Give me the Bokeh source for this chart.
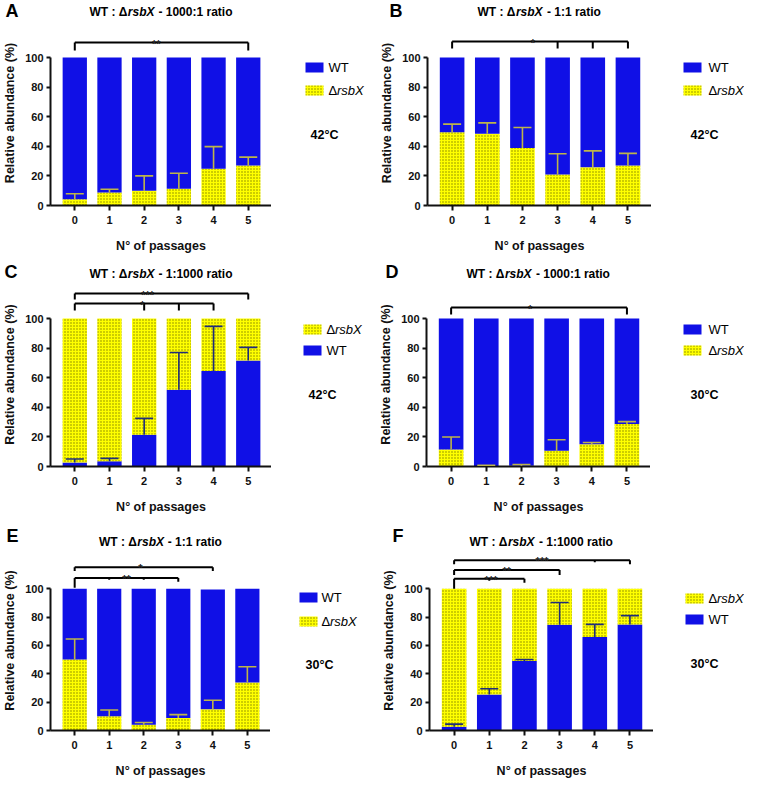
from bokeh.plotting import figure
from bokeh.models import Range1d, FixedTicker, Label, Whisker, TeeHead, ColumnDataSource
from bokeh.layouts import row, column
from bokeh.embed import file_html
from bokeh.resources import INLINE

# ---------------- data ----------------
passages = [0, 1, 2, 3, 4, 5]
y_ticks = [0, 20, 40, 60, 80, 100]

# A: WT : rsbX 1000:1, 42 C  (rsbX at bottom)
a_rsbx = [4.3, 8.8, 9.9, 11.4, 24.8, 27.0]
a_rsbx_sd = [3.6, 2.2, 10.1, 10.4, 15.0, 5.7]
a_wt = [95.7, 91.2, 90.1, 88.6, 75.2, 73.0]

# B: 1:1, 42 C
b_rsbx = [49.5, 48.4, 38.9, 20.9, 25.9, 27.0]
b_rsbx_sd = [5.5, 7.4, 13.8, 14.1, 11.0, 8.2]
b_wt = [50.5, 51.6, 61.1, 79.1, 74.1, 73.0]

# C: 1:1000, 42 C  (WT at bottom)
c_wt = [2.7, 3.5, 21.5, 51.8, 64.6, 71.7]
c_wt_sd = [2.4, 2.0, 11.0, 25.2, 30.1, 8.8]
c_rsbx = [97.3, 96.5, 78.5, 48.2, 35.4, 28.3]

# D: 1000:1, 30 C
d_rsbx = [11.5, 0.3, 0.5, 10.6, 15.0, 28.8]
d_rsbx_sd = [8.4, 0.5, 0.9, 7.5, 1.2, 1.5]
d_wt = [88.5, 99.7, 99.5, 89.4, 85.0, 71.2]

# E: 1:1, 30 C
e_rsbx = [50.1, 10.1, 4.0, 8.8, 15.0, 33.9]
e_rsbx_sd = [14.4, 4.3, 1.6, 2.4, 6.3, 11.0]
e_wt = [49.9, 89.9, 96.0, 91.2, 84.4, 66.1]

# F: 1:1000, 30 C
f_wt = [2.7, 25.4, 49.0, 74.6, 65.9, 74.8]
f_wt_sd = [1.8, 4.0, 1.1, 15.6, 8.9, 6.2]
f_rsbx = [97.3, 74.6, 51.0, 25.4, 34.1, 25.2]

# significance comparisons: (from, to, intermediate ticks, label)
a_sig = [(0, 5, [], "**")]
b_sig = [(0, 5, [3, 4], "*")]
c_sig = [(0, 5, [], "***"), (0, 4, [2, 3], "*")]
d_sig = [(0, 5, [], "*")]
e_sig = [(0, 4, [], "*"), (0, 3, [1, 2], "**")]
f_sig = [(0, 5, [4], "***"), (0, 3, [], "**"), (0, 2, [1], "***")]

# ---------------- style / layout ----------------
TILE_W, TILE_H = 372, 260
PPX = 35.2
X0, X1 = -0.7, 5.67
BLUE = "#1010E6"
YELLOW = "#FFFF00"
FONT = "Liberation Sans"

BOLD_W = {'W': 944, 'T': 611, ' ': 278, ':': 333, '-': 333, '0': 556, '1': 556,
          'r': 389, 'a': 556, 't': 333, 'i': 278, 'o': 611,
          'A': 722, 'B': 722, 'C': 722, 'D': 722, 'E': 667, 'F': 611}
BI_W = {'r': 389, 's': 556, 'b': 611, 'X': 667}


def tw(s, size, table):
    return sum(table.get(c, 556) for c in s) * size / 1000.0


panels = [
    dict(letter="A", ratio="1000:1", temp="42°C", bottom="rsbx",
         low=a_rsbx, low_sd=a_rsbx_sd, high=a_wt, sig=a_sig, head=20,
         geom=(47, 57, 205), letter_x=1, title_py=11,
         box_left=305, text_x=328, leg_py=(67, 90), temp_px=(310, 134),
         br=[(2.35, 42, 8, 8, 8)]),
    dict(letter="B", ratio="1:1", temp="42°C", bottom="rsbx",
         low=b_rsbx, low_sd=b_rsbx_sd, high=b_wt, sig=b_sig, head=20,
         geom=(55, 57, 205), letter_x=16, title_py=11,
         box_left=311, text_x=336, leg_py=(67, 90), temp_px=(318, 134),
         br=[(2.3, 41, 7, 7, 7)]),
    dict(letter="C", ratio="1:1000", temp="42°C", bottom="wt",
         low=c_wt, low_sd=c_wt_sd, high=c_rsbx, sig=c_sig, head=22,
         geom=(47, 58, 206), letter_x=0, title_py=13.7,
         box_left=303, text_x=326, leg_py=(69, 90), temp_px=(308, 134),
         br=[(2.1, 33, 6, 6, 6), (1.95, 43, 7, 7, 7)]),
    dict(letter="D", ratio="1000:1", temp="30°C", bottom="rsbx",
         low=d_rsbx, low_sd=d_rsbx_sd, high=d_wt, sig=d_sig, head=22,
         geom=(54, 58, 206), letter_x=12, title_py=13.7,
         box_left=311, text_x=336, leg_py=(69, 90), temp_px=(318, 134),
         br=[(2.25, 47, 7, 7, 7)]),
    dict(letter="E", ratio="1:1", temp="30°C", bottom="rsbx",
         low=e_rsbx, low_sd=e_rsbx_sd, high=e_wt, sig=e_sig, head=30,
         geom=(46, 69, 214), letter_x=0, title_py=21.5,
         box_left=299, text_x=321, leg_py=(77, 101), temp_px=(305, 144),
         br=[(1.9, 47, 4, 4, 2), (1.5, 58, 10, 4, 2)]),
    dict(letter="F", ratio="1:1000", temp="30°C", bottom="wt",
         low=f_wt, low_sd=f_wt_sd, high=f_rsbx, sig=f_sig, head=30,
         geom=(57, 69, 214), letter_x=19, title_py=21.5,
         box_left=313, text_x=336, leg_py=(78, 99), temp_px=(318, 143),
         br=[(2.5, 40, 4, 4, 2), (1.5, 50, 5, 5, 2), (1.05, 59, 10, 4, 2)]),
]


def lbl(p, x, y, text, size, style="normal", align="left", baseline="middle", color="black"):
    p.add_layout(Label(x=x, y=y, text=text, text_font=FONT, text_font_size=f"{size}px",
                       text_font_style=style, text_align=align, text_baseline=baseline,
                       text_color=color))


def style_fig(f):
    f.outline_line_color = None
    f.xgrid.visible = False
    f.ygrid.visible = False
    return f


YEL = dict(fill_color=YELLOW, hatch_pattern="dot", hatch_color="#5a5a00",
           hatch_scale=3, hatch_weight=1, hatch_alpha=0.75, line_color=None)
BLU = dict(fill_color=BLUE, line_color=None)


def make_tile(s):
    left, y100, y0 = s["geom"]
    hh = s["head"]
    main_w = int(round(left + (X1 - X0) * PPX))
    side_w = TILE_W - main_w

    # ---- title strip: panel letter (horizontal axis label) + title
    h = figure(width=main_w, height=hh, output_backend="svg", toolbar_location=None,
               title=None, x_axis_type=None,
               x_range=Range1d(left, main_w), y_range=Range1d(hh, 0),
               min_border_left=left, min_border_right=0, min_border_top=0,
               min_border_bottom=0)
    style_fig(h)
    hy = h.yaxis[0]
    hy.ticker = FixedTicker(ticks=[])
    hy.axis_line_color = None
    hy.major_tick_line_color = None
    hy.minor_tick_line_color = None
    hy.major_label_text_font_size = "0px"
    hy.axis_label = s["letter"]
    hy.axis_label_orientation = "horizontal"
    hy.axis_label_text_font = FONT
    hy.axis_label_text_font_style = "bold"
    hy.axis_label_text_font_size = "18px"
    hy.axis_label_text_color = "black"
    hy.axis_label_standoff = int(max(0, left - s["letter_x"] - tw(s["letter"], 18, BOLD_W) - 1))

    tsize = 12
    p1, p2, p3 = "WT : Δ", "rsbX", "- " + s["ratio"] + " ratio"
    w2, wsp, w3 = tw(p2, tsize, BI_W), tw(" ", tsize, BOLD_W), tw(p3, tsize, BOLD_W)
    w1 = tw("WT : ", tsize, BOLD_W) + 0.667 * tsize
    total = w1 + w2 + wsp + w3 + 1.5
    cx = (left + main_w) / 2.0
    xa = cx - total / 2 + w1
    ty = s["title_py"]
    lbl(h, xa, ty, p1, tsize, "bold", align="right", baseline="alphabetic")
    lbl(h, xa + 0.5, ty, p2, tsize, "bold italic", baseline="alphabetic")
    lbl(h, xa + w2 + wsp + 1.5, ty, p3, tsize, "bold", baseline="alphabetic")

    # ---- main plot
    yend = 100.0 * (y0 - hh) / (y0 - y100)

    def yd(py):
        return 100.0 * (y0 - py) / (y0 - y100)

    def dy(dpx):
        return 100.0 * dpx / (y0 - y100)

    p = figure(width=main_w, height=TILE_H - hh, output_backend="svg", toolbar_location=None,
               title=None, x_range=Range1d(X0, X1), y_range=Range1d(0, yend),
               min_border_left=left, min_border_right=0, min_border_top=0,
               min_border_bottom=TILE_H - y0)
    style_fig(p)

    low, high, sd = s["low"], s["high"], s["low_sd"]
    low_top = list(low)
    high_top = [a + b for a, b in zip(low, high)]
    if s["bottom"] == "rsbx":
        low_style, high_style, ecol = YEL, BLU, "#BDB44A"
    else:
        low_style, high_style, ecol = BLU, YEL, "#1F2D7A"
    p.vbar(x=passages, width=0.7, bottom=0, top=low_top, **low_style)
    p.vbar(x=passages, width=0.7, bottom=low_top, top=high_top, **high_style)

    src = ColumnDataSource(dict(x=passages, lower=low, upper=[a + b for a, b in zip(low, sd)]))
    p.add_layout(Whisker(base="x", lower="lower", upper="upper", source=src, level="overlay",
                         line_color=ecol, line_width=1.6, lower_head=None,
                         upper_head=TeeHead(size=18, line_color=ecol, line_width=1.6)))

    xa_, ya_ = p.xaxis[0], p.yaxis[0]
    xa_.ticker = FixedTicker(ticks=passages)
    ya_.ticker = FixedTicker(ticks=y_ticks)
    ya_.bounds = (0, 100)
    for ax in (xa_, ya_):
        ax.axis_line_width = 2
        ax.axis_line_color = "#111111"
        ax.major_tick_line_width = 2
        ax.major_tick_line_color = "#111111"
        ax.major_tick_out = 5
        ax.major_tick_in = 0
        ax.minor_tick_line_color = None
        ax.major_label_text_font = FONT
        ax.major_label_text_font_style = "bold"
        ax.major_label_text_font_size = "11px"
        ax.major_label_text_color = "#111111"
        ax.axis_label_text_font = FONT
        ax.axis_label_text_font_style = "bold"
        ax.axis_label_text_font_size = "12.5px"
        ax.axis_label_text_color = "#111111"
    ya_.major_tick_out = 4
    ya_.axis_label = "Relative abundance (%)"
    ya_.axis_label_standoff = 5
    ya_.major_label_standoff = 3
    xa_.axis_label = "N° of passages"
    xa_.axis_label_standoff = 12
    xa_.major_label_standoff = 5

    # significance brackets
    sx0, sy0, sx1, sy1 = [], [], [], []
    for (a, b, mids, text), (star_x, line_py, dl, dr, dm) in zip(s["sig"], s["br"]):
        ly = yd(line_py)
        sx0 += [a, a, b]
        sy0 += [ly, ly, ly]
        sx1 += [b, a, b]
        sy1 += [ly, ly - dy(dl), ly - dy(dr)]
        for m in mids:
            sx0.append(m)
            sy0.append(ly)
            sx1.append(m)
            sy1.append(ly - dy(dm))
        lbl(p, star_x, yd(line_py + 1), text, 11, "bold", "center", "alphabetic", "#222222")
    p.segment(x0=sx0, y0=sy0, x1=sx1, y1=sy1, line_color="black", line_width=2)

    # ---- side: legend + temperature (tile pixel coordinates, borders match the plot)
    sb = TILE_H - y0
    sf = figure(width=side_w, height=TILE_H, output_backend="svg", toolbar_location=None,
                title=None, x_axis_type=None, y_axis_type=None,
                x_range=Range1d(main_w, TILE_W), y_range=Range1d(y0, 0),
                min_border_left=0, min_border_right=0, min_border_top=0, min_border_bottom=sb)
    style_fig(sf)
    names = ["WT", "rsbx"] if s["bottom"] == "rsbx" else ["rsbx", "WT"]
    bx = s["box_left"]
    for name, py in zip(names, s["leg_py"]):
        sty = YEL if name == "rsbx" else BLU
        sf.rect(x=[bx + 9], y=[py], width=18, height=10, **sty)
        if name == "WT":
            lbl(sf, s["text_x"], py, "WT", 13)
        else:
            lbl(sf, s["text_x"], py, "Δ", 13)
            lbl(sf, s["text_x"] + 8.5, py, "rsbX", 13, "italic")
    tx, typ = s["temp_px"]
    lbl(sf, tx, typ, s["temp"], 12.5, "bold")

    return row(column(h, p), sf)


tiles = [make_tile(s) for s in panels]
page = column(row(tiles[0], tiles[1]), row(tiles[2], tiles[3]), row(tiles[4], tiles[5]))

open("out.html", "w").write(file_html(page, INLINE))
